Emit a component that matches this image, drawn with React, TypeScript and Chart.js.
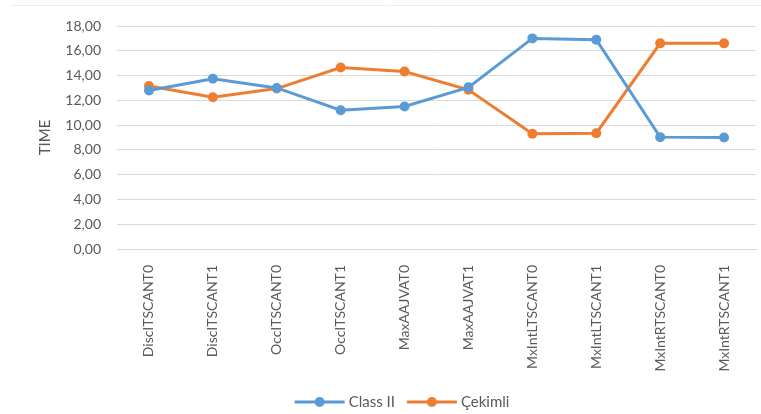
import React, { useEffect, useRef } from "react";
import { Chart, registerables } from "chart.js";

Chart.register(...registerables);

const categories = [
  "DiscITSCANT0",
  "DiscITSCANT1",
  "OccITSCANT0",
  "OccITSCANT1",
  "MaxAAJVAT0",
  "MaxAAJVAT1",
  "MxIntLTSCANT0",
  "MxIntLTSCANT1",
  "MxIntRTSCANT0",
  "MxIntRTSCANT1",
];
const classII = [12.8, 13.75, 13.0, 11.2, 11.5, 13.05, 17.0, 16.9, 9.03, 9.0];
const cekimli = [13.15, 12.25, 12.95, 14.65, 14.33, 12.85, 9.3, 9.35, 16.6, 16.6];
const seriesNames = ["Class II", "Çekimli"];
const colors = ["#5B9BD5", "#ED7D31"];
const yTitle = "TIME";

const FONT = "Lato, 'Open Sans', sans-serif";

const legendPlugin = {
  id: "customLegend",
  afterDraw: (c: any) => {
    const ctx = c.ctx;
    ctx.save();
    ctx.font = `15px ${FONT}`;
    ctx.textBaseline = "middle";
    const y = 402;
    const markerW = 50;
    const gapText = 4;
    const gapItem = 12;
    const items = c.data.datasets.map((ds: any) => ({
      label: ds.label as string,
      color: ds.borderColor as string,
      w: markerW + gapText + ctx.measureText(ds.label).width,
    }));
    const total = items.reduce((a: number, it: any) => a + it.w, 0) + gapItem * (items.length - 1);
    let x = 402 - total / 2;
    for (const it of items) {
      ctx.strokeStyle = it.color;
      ctx.lineWidth = 3;
      ctx.beginPath();
      ctx.moveTo(x, y);
      ctx.lineTo(x + markerW, y);
      ctx.stroke();
      ctx.fillStyle = it.color;
      ctx.beginPath();
      ctx.arc(x + markerW / 2, y, 5, 0, Math.PI * 2);
      ctx.fill();
      ctx.fillStyle = "#595959";
      ctx.fillText(it.label, x + markerW + gapText, y);
      x += it.w + gapItem;
    }
    ctx.restore();
  },
};

export default function App() {
  const ref = useRef<HTMLCanvasElement>(null);
  useEffect(() => {
    const chart = new Chart(ref.current!, {
      type: "line",
      data: {
        labels: categories,
        datasets: [classII, cekimli].map((d, i) => ({
          label: seriesNames[i],
          data: d,
          borderColor: colors[i],
          backgroundColor: colors[i],
          borderWidth: 3,
          pointRadius: 5,
          pointHoverRadius: 5,
          pointBorderWidth: 0,
          pointStyle: "circle",
          tension: 0,
        })),
      },
      options: {
        animation: false,
        responsive: false,
        layout: { padding: { left: 36, right: 4, top: 26, bottom: 21 } },
        plugins: {
          tooltip: { enabled: false },
          legend: { display: false },
        },
        scales: {
          x: {
            offset: true,
            grid: { display: false },
            border: { display: true, color: "#d9d9d9", width: 1 },
            ticks: {
              color: "#595959",
              font: { family: FONT, size: 14 },
              minRotation: 90,
              maxRotation: 90,
              padding: 8,
              autoSkip: false,
            },
            afterFit: (s: any) => {
              s.height = 144;
            },
          },
          y: {
            min: 0,
            max: 18,
            grid: { color: "#d9d9d9", lineWidth: 1, drawTicks: false },
            border: { display: false },
            title: {
              display: true,
              text: yTitle,
              color: "#595959",
              font: { family: FONT, size: 15 },
              padding: { top: 0, bottom: 4 },
            },
            ticks: {
              stepSize: 2,
              color: "#595959",
              font: { family: FONT, size: 14 },
              padding: 16,
              callback: (v: any) => Number(v).toFixed(2).replace(".", ","),
            },
            afterFit: (s: any) => {
              s.width = 81;
            },
          },
        },
      },
      plugins: [
        {
          id: "topline",
          beforeDraw: (c: any) => {
            const ctx = c.ctx;
            ctx.save();
            ctx.strokeStyle = "#eeeeee";
            ctx.lineWidth = 1;
            ctx.beginPath();
            ctx.moveTo(10, 5.5);
            ctx.lineTo(761, 5.5);
            ctx.stroke();
            ctx.restore();
          },
        },
        legendPlugin,
      ],
    } as any);
    return () => chart.destroy();
  }, []);
  return (
    <div style={{ position: "absolute", left: 0, top: 0, width: 761, height: 414, background: "#fff" }}>
      <canvas ref={ref} width={761} height={414} style={{ width: 761, height: 414 }} />
    </div>
  );
}
